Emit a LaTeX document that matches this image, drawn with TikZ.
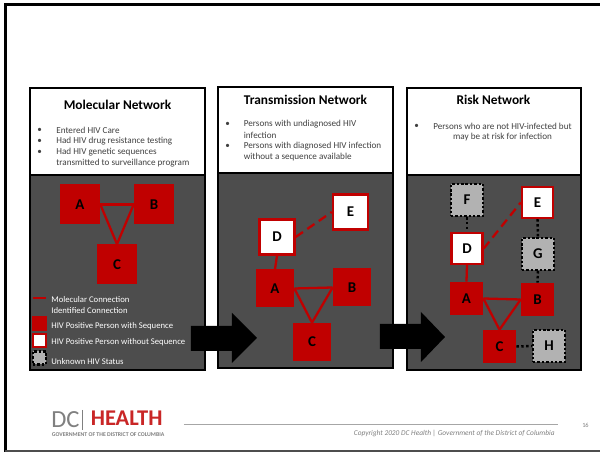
\documentclass[tikz,border=0pt]{standalone}
\usepackage{fontspec}
\setmainfont{Carlito}
\usetikzlibrary{positioning}
\definecolor{panelcolor}{RGB}{77,77,77}
\definecolor{personcolor}{RGB}{192,0,0}
\definecolor{unknowncolor}{RGB}{178,178,178}
\definecolor{bodycolor}{RGB}{64,64,64}
\tikzstyle{titletext} = [font=\fontsize{7.6pt}{9pt}\selectfont\bfseries, inner sep=0pt]
\tikzstyle{bodytext} = [font=\fontsize{5.2pt}{6pt}\selectfont, text=bodycolor, inner sep=0pt, anchor=west]
\tikzstyle{legendtext} = [font=\fontsize{4.95pt}{6pt}\selectfont, text=white, inner sep=0pt, anchor=west]
\tikzstyle{casebox} = [rectangle, inner sep=0pt, font=\fontsize{8.5pt}{9pt}\selectfont\bfseries]
\tikzstyle{withseq} = [casebox, fill=personcolor]
\tikzstyle{noseq} = [casebox, fill=white, draw=personcolor, line width=1.4pt]
\tikzstyle{unknown} = [casebox, fill=unknowncolor, draw=black, line width=1.2pt, dash pattern=on 1.4pt off 1.1pt]
\tikzstyle{molecular} = [draw=personcolor, line width=1.3pt]
\tikzstyle{identified} = [draw=personcolor, line width=1.3pt, dash pattern=on 5pt off 3pt]
\tikzstyle{riskline} = [draw=black, line width=1.4pt, dash pattern=on 1.4pt off 1.4pt]
\tikzstyle{paneledge} = [draw=black, line width=1.3pt]
\begin{document}
\begin{tikzpicture}[x=0.02cm, y=-0.02cm]
    \useasboundingbox (0, 0) rectangle (600, 452);
    \fill[white] (0, 0) rectangle (600, 452);
    \draw[line width=1.4pt] (5.5, 452) -- (5.5, 4.5) -- (600, 4.5);
    \draw[panelcolor, line width=1.2pt] (5.5, 451) -- (600, 451);

    % Molecular network
    \fill[panelcolor] (30, 175) rectangle (205, 370);
    \draw[paneledge] (30, 88) rectangle (205, 370);
    \draw[paneledge] (30, 175) -- (205, 175);
    \node[titletext] (mol_title) at (117.5, 105) {Molecular Network};
    \node[bodytext] (mol_b1) at (37, 130) {•};
    \node[bodytext] (mol_b2) at (37, 141) {•};
    \node[bodytext] (mol_b3) at (37, 152) {•};
    \node[bodytext] (mol_t1) at (56, 130.5) {Entered HIV Care};
    \node[bodytext] (mol_t2) at (56, 141.5) {Had HIV drug resistance testing};
    \node[bodytext] (mol_t3) at (56, 152.5) {Had HIV genetic sequences};
    \node[bodytext] (mol_t4) at (56, 163.5) {transmitted to surveillance program};

    \node[withseq, minimum size=0.8cm] (A1) at (80, 204.5) {A};
    \node[withseq, minimum size=0.8cm] (B1) at (154, 204.5) {B};
    \node[withseq, minimum size=0.8cm] (C1) at (117, 264.5) {C};
    \draw[molecular] (A1.east) -- (B1.west);
    \draw[molecular] (A1.east) -- (C1.north);
    \draw[molecular] (B1.west) -- (C1.north);

    % Legend
    \coordinate (leg_a) at (33, 298);
    \coordinate (leg_b) at (46, 298);
    \draw[molecular] (leg_a) -- (leg_b);
    \node[legendtext] (leg_t1) at (51, 299.5) {Molecular Connection};
    \node[legendtext] (leg_t2) at (51, 310.5) {Identified Connection};
    \node[withseq, minimum size=0.3cm] (leg_seq) at (39.5, 323.5) {};
    \node[legendtext] (leg_t3) at (51, 326.5) {HIV Positive Person with Sequence};
    \node[noseq, minimum size=0.26cm] (leg_noseq) at (39.5, 340.5) {};
    \node[legendtext] (leg_t4) at (51, 342.5) {HIV Positive Person without Sequence};
    \node[unknown, minimum size=0.26cm] (leg_unk) at (39.5, 358) {};
    \node[legendtext] (leg_t5) at (51, 361.5) {Unknown HIV Status};

    % Transmission network
    \fill[panelcolor] (218, 173) rectangle (393, 368);
    \draw[paneledge] (218, 87) rectangle (393, 368);
    \draw[paneledge] (218, 173) -- (393, 173);
    \node[titletext] (tr_title) at (305.5, 100) {Transmission Network};
    \node[bodytext] (tr_b1) at (225, 124) {•};
    \node[bodytext] (tr_b2) at (225, 146) {•};
    \node[bodytext] (tr_t1) at (243.5, 124.5) {Persons with undiagnosed HIV};
    \node[bodytext] (tr_t2) at (243.5, 135.5) {infection};
    \node[bodytext] (tr_t3) at (243.5, 146.5) {Persons with diagnosed HIV infection};
    \node[bodytext] (tr_t4) at (243.5, 157) {without a sequence available};

    \node[noseq, minimum size=0.7cm] (D2) at (277, 237) {D};
    \node[noseq, minimum size=0.7cm] (E2) at (350.5, 212) {E};
    \node[withseq, minimum size=0.76cm] (A2) at (275, 288.5) {A};
    \node[withseq, minimum size=0.76cm] (B2) at (352, 287.5) {B};
    \node[withseq, minimum size=0.76cm] (C2) at (312, 342) {C};
    \draw[identified] (D2.east) -- (E2.west);
    \draw[molecular] (D2.south) -- (A2.north);
    \draw[molecular] (A2.east) -- (B2.west);
    \draw[molecular] (A2.east) -- (C2.north);
    \draw[molecular] (B2.west) -- (C2.north);

    % Risk network
    \fill[panelcolor] (407, 175) rectangle (581, 370);
    \draw[paneledge] (407, 88) rectangle (581, 370);
    \draw[paneledge] (407, 175) -- (581, 175);
    \node[titletext] (ri_title) at (493.5, 100) {Risk Network};
    \node[bodytext] (ri_b1) at (414, 126) {•};
    \node[bodytext, anchor=center] (ri_t1) at (502.5, 126.5) {Persons who are not HIV-infected but};
    \node[bodytext, anchor=center] (ri_t2) at (502.5, 137.5) {may be at risk for infection};

    \node[unknown, minimum size=0.64cm] (F3) at (467, 200) {F};
    \node[noseq, minimum size=0.62cm] (E3) at (537.5, 202.5) {E};
    \node[noseq, minimum size=0.62cm] (D3) at (467, 248.5) {D};
    \node[unknown, minimum size=0.64cm] (G3) at (538, 254) {G};
    \node[withseq, minimum size=0.66cm] (A3) at (466.5, 298.5) {A};
    \node[withseq, minimum size=0.66cm] (B3) at (537.5, 299.5) {B};
    \node[withseq, minimum size=0.66cm] (C3) at (499.5, 346.5) {C};
    \node[unknown, minimum size=0.64cm] (H3) at (549, 346) {H};
    \draw[riskline] (F3.south) -- (D3.north);
    \draw[riskline] (E3.south) -- (G3.north);
    \draw[riskline] (G3.south) -- (B3.north);
    \draw[riskline] (C3.east) -- (H3.west);
    \draw[identified] (D3.east) -- (E3.west);
    \draw[molecular] (D3.south) -- (A3.north);
    \draw[molecular] (A3.east) -- (B3.west);
    \draw[molecular] (A3.east) -- (C3.north);
    \draw[molecular] (B3.west) -- (C3.north);

    % Arrows between panels
    \fill[black] (191, 326) -- (232, 326) -- (232, 313) -- (257, 338) -- (232, 363) -- (232, 351) -- (191, 351) -- cycle;
    \fill[black] (380, 324) -- (421, 324) -- (421, 312) -- (445, 337) -- (421, 362) -- (421, 349) -- (380, 349) -- cycle;

    % Footer
    \node[font=\fontsize{14pt}{14pt}\selectfont, text=gray, inner sep=0pt, anchor=west] (logo_dc) at (51, 420) {DC};
    \coordinate (bar_top) at (82, 410);
    \coordinate (bar_bot) at (82, 430);
    \draw[gray, line width=0.3pt] (bar_top) -- (bar_bot);
    \node[font=\fontsize{12.8pt}{13pt}\selectfont\bfseries, text=personcolor!85, inner sep=0pt, anchor=base west] (logo_health) at (90.5, 425.5) {HEALTH};
    \node[font=\fontsize{3.3pt}{4pt}\selectfont\bfseries, text=gray, inner sep=0pt, anchor=base west] (logo_sub) at (51.5, 437) {GOVERNMENT OF THE DISTRICT OF COLUMBIA};
    \coordinate (rule_a) at (184, 424);
    \coordinate (rule_b) at (558, 424);
    \draw[gray!70, line width=0.4pt] (rule_a) -- (rule_b);
    \node[font=\fontsize{4.2pt}{5pt}\selectfont\itshape, text=gray, inner sep=0pt, anchor=east] (copyright) at (555, 433.5) {Copyright 2020 DC Health | Government of the District of Columbia};
    \node[font=\fontsize{3.6pt}{4pt}\selectfont, text=gray, inner sep=0pt] (pageno) at (585.5, 425.5) {16};
\end{tikzpicture}
\end{document}
